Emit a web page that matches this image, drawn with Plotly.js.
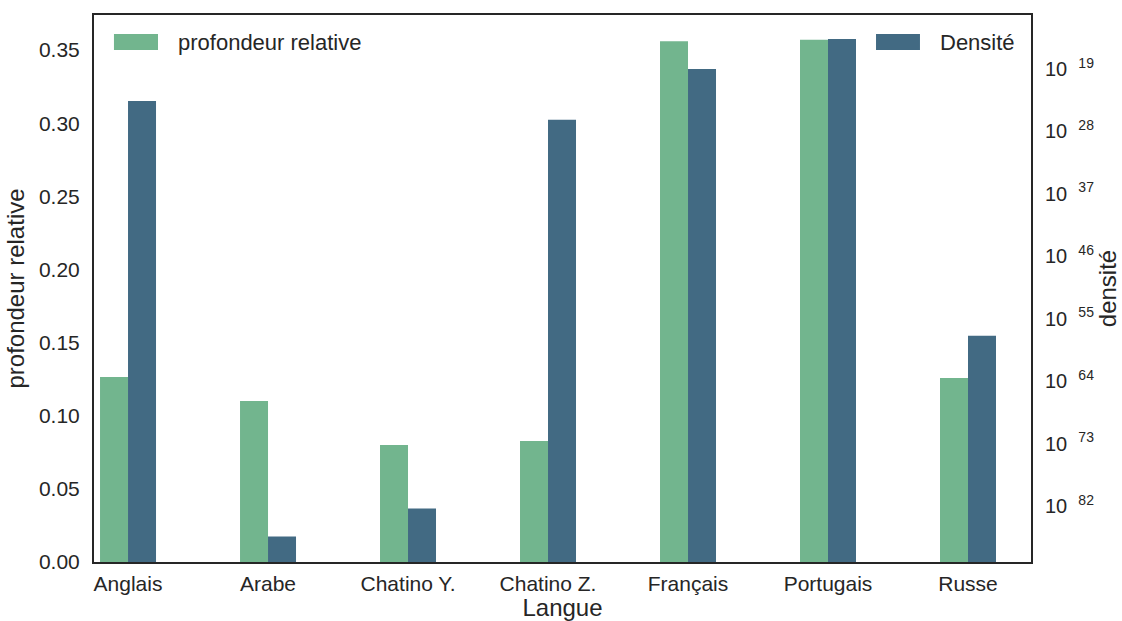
<!DOCTYPE html>
<html>
<head>
<meta charset="utf-8">
<script src="https://cdn.plot.ly/plotly-3.0.1.min.js"></script>
<style>html,body{margin:0;padding:0;background:#fff;}#chart{width:1122px;height:621px;}</style>
</head>
<body>
<div id="chart"></div>
<script>
const langues = ['Anglais', 'Arabe', 'Chatino Y.', 'Chatino Z.', 'Français', 'Portugais', 'Russe'];
const profondeur = [0.1265, 0.110, 0.080, 0.0827, 0.356, 0.357, 0.1258];
const densite = [2.45e-24, 4.0e-87, 4.4e-83, 4.6e-27, 1.0e-19, 2.1e-15, 3.5e-58];
const densiteExposants = [19, 28, 37, 46, 55, 64, 73, 82];
const profTicks = [0, 0.05, 0.10, 0.15, 0.20, 0.25, 0.30, 0.35];
const nomsSeries = ['profondeur relative', 'Densité'];
const couleurs = ['#72b58e', '#426a83'];

const FONT = 'Liberation Sans, Arial, sans-serif';
const TXT = '#262626';

const traces = [
  {
    type: 'bar', x: langues, y: profondeur, name: nomsSeries[0],
    marker: {color: couleurs[0], line: {width: 0}},
    offset: -0.2, width: 0.2, yaxis: 'y', showlegend: false
  },
  {
    type: 'bar', x: langues, y: densite, name: nomsSeries[1],
    marker: {color: couleurs[1], line: {width: 0}},
    offset: 0, width: 0.2, yaxis: 'y2', showlegend: false
  }
];

// legend (patch + label) in paper coordinates
const legendItems = [
  {px0: 0.0213, px1: 0.0683, tx: 0.0875, anchor: 'left'},
  {px0: 0.8346, px1: 0.8815, tx: 0.9007, anchor: 'left'}
];
const shapes = legendItems.map((it, i) => ({
  type: 'rect', xref: 'paper', yref: 'paper',
  x0: it.px0, x1: it.px1, y0: 0.936, y1: 0.9653,
  fillcolor: couleurs[i], line: {width: 0}, layer: 'above'
}));
const annotations = legendItems.map((it, i) => ({
  xref: 'paper', yref: 'paper', x: it.tx, y: 0.9506,
  xanchor: 'left', yanchor: 'middle', showarrow: false,
  text: nomsSeries[i], font: {family: FONT, size: 22, color: TXT}
}));

const layout = {
  width: 1122, height: 621,
  margin: {l: 94, r: 91, t: 15, b: 59},
  paper_bgcolor: '#fff', plot_bgcolor: '#fff',
  font: {family: FONT, size: 21, color: TXT},
  barmode: 'overlay',
  showlegend: false,
  shapes: shapes,
  annotations: annotations,
  xaxis: {
    type: 'category', range: [-0.243, 6.45],
    showgrid: false, zeroline: false,
    showline: true, linecolor: TXT, linewidth: 2, mirror: true,
    ticks: 'outside', ticklen: 2, tickcolor: 'rgba(0,0,0,0)',
    tickfont: {family: FONT, size: 21, color: TXT},
    title: {text: 'Langue', font: {family: FONT, size: 24, color: TXT}, standoff: 2}
  },
  yaxis: {
    range: [0, 0.374], showgrid: false, zeroline: false,
    showline: true, linecolor: TXT, linewidth: 2,
    tickvals: profTicks, ticktext: profTicks.map(v => v.toFixed(2)),
    ticks: 'outside', ticklen: 8, tickcolor: 'rgba(0,0,0,0)',
    tickfont: {family: FONT, size: 21, color: TXT},
    title: {text: 'profondeur relative', font: {family: FONT, size: 24, color: TXT}, standoff: 8}
  },
  yaxis2: {
    type: 'log', range: [-90.07, -11.22], overlaying: 'y', side: 'right',
    showgrid: false, zeroline: false,
    showline: true, linecolor: TXT, linewidth: 2,
    tickvals: densiteExposants.map(e => Math.pow(10, -e)),
    ticktext: densiteExposants.map(e => '10&nbsp;&nbsp;<sup>' + e + '</sup>'),
    ticks: 'outside', ticklen: 8, tickcolor: 'rgba(0,0,0,0)',
    tickfont: {family: FONT, size: 20, color: TXT},
    title: {text: 'densité', font: {family: FONT, size: 24, color: TXT}, standoff: 2}
  }
};

Plotly.newPlot('chart', traces, layout, {displayModeBar: false, staticPlot: true});
</script>
</body>
</html>
